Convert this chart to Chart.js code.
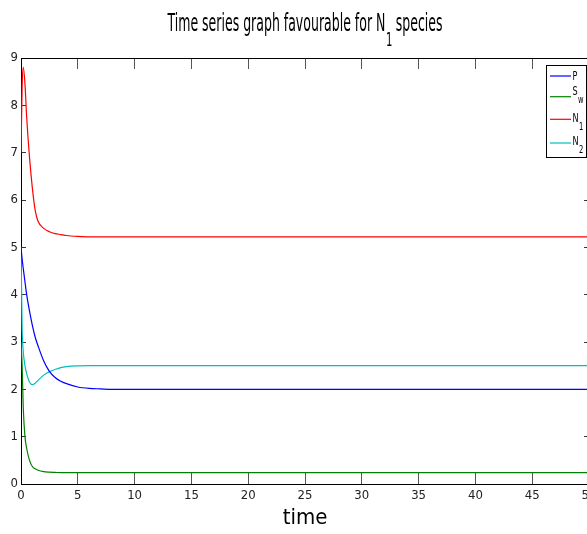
<!DOCTYPE html>
<html><head><meta charset="utf-8">
<script src="https://cdn.jsdelivr.net/npm/chart.js@4/dist/chart.umd.min.js"></script>
<style>html,body{margin:0;padding:0;overflow:hidden;background:#fff}#wrap{position:relative;width:600px;height:534px}</style>
</head><body><div id="wrap"><canvas id="c"></canvas></div>
<script>
// ---- data ----
const time     = [0, 0.1, 0.2, 0.35, 0.5, 0.75, 1, 1.25, 1.5, 2, 2.5, 3, 3.5, 4, 5, 6, 7, 8, 10, 20, 30, 40, 50];
const seriesP  = [5.0, 4.75, 4.55, 4.27, 4.0, 3.65, 3.35, 3.1, 2.92, 2.6, 2.38, 2.25, 2.17, 2.12, 2.05, 2.02, 2.01, 2.0, 2.0, 2.0, 2.0, 2.0, 2.0];
const seriesSw = [3.0, 2.5, 1.6, 1.0, 0.75, 0.5, 0.37, 0.32, 0.29, 0.26, 0.25, 0.245, 0.24, 0.24, 0.24, 0.24, 0.24, 0.24, 0.24, 0.24, 0.24, 0.24, 0.24];
const seriesN1 = [7.0, 8.4, 8.8, 8.45, 7.75, 6.9, 6.25, 5.78, 5.55, 5.4, 5.33, 5.29, 5.27, 5.25, 5.23, 5.22, 5.22, 5.22, 5.22, 5.22, 5.22, 5.22, 5.22];
const seriesN2 = [5.0, 3.3, 2.8, 2.5, 2.33, 2.15, 2.1, 2.13, 2.19, 2.3, 2.37, 2.42, 2.46, 2.48, 2.495, 2.5, 2.5, 2.5, 2.5, 2.5, 2.5, 2.5, 2.5];
const xTickValues = [0, 5, 10, 15, 20, 25, 30, 35, 40, 45, 50];
const yTickValues = [0, 1, 2, 3, 4, 5, 6, 7, 8, 9];
const seriesNames = ['P', 'S', 'N', 'N'];
const seriesSubs  = ['', 'w', '1', '2'];
const seriesColors = ['#0000ff', '#008000', '#ff0000', '#00bfbf'];
const titleMain = 'Time series graph favourable for N';
const titleSub = '1';
const titleTail = ' species';
const xAxisTitle = 'time';

const FAM = '"Liberation Sans Narrow", "DejaVu Sans Condensed", "Liberation Sans", sans-serif';
const toPts = vals => time.map((t, i) => ({x: t, y: vals[i]}));
const allSeries = [seriesP, seriesSw, seriesN1, seriesN2];

const datasets = allSeries.map((vals, i) => ({
  label: seriesNames[i] + seriesSubs[i],
  data: toPts(vals),
  borderColor: seriesColors[i],
  backgroundColor: seriesColors[i],
  borderWidth: 1.2,
  pointRadius: 0,
  fill: false,
  cubicInterpolationMode: 'monotone'
}));

const setX = s => { s.ticks = xTickValues.map(v => ({value: v})); };
const setY = s => { s.ticks = yTickValues.map(v => ({value: v})); };
const fitX = h => s => { s.height = h; s.paddingLeft = 0; s.paddingRight = 0; s.paddingTop = 0; s.paddingBottom = 0; };
const fitY = w => s => { s.width = w; s.paddingLeft = 0; s.paddingRight = 0; s.paddingTop = 0; s.paddingBottom = 0; };

const decor = {
  id: 'decor',
  afterDraw(chart) {
    const ctx = chart.ctx;
    const ca = chart.chartArea;
    ctx.save();
    ctx.fillStyle = '#000';
    const fMain = '25px ' + FAM, fSub = '20px ' + FAM;
    ctx.font = fMain;
    const wM = ctx.measureText(titleMain).width;
    const wT = ctx.measureText(titleTail).width;
    ctx.font = fSub;
    const wS = ctx.measureText(titleSub).width;
    const total = wM + wS + wT;
    const target = 275;
    const sx = target / total;
    const cx = (ca.left + ca.right) / 2;
    ctx.save();
    ctx.translate(cx - target / 2, 31);
    ctx.scale(sx, 1);
    ctx.textBaseline = 'alphabetic';
    ctx.textAlign = 'left';
    ctx.font = fMain;
    ctx.fillText(titleMain, 0, 0);
    ctx.font = fSub;
    ctx.fillText(titleSub, wM + 1, 15);
    ctx.font = fMain;
    ctx.fillText(titleTail, wM + wS, 0);
    ctx.restore();

    const bx = 546.5, by = 65.5, bw = 40, bh = 92;
    ctx.fillStyle = '#fff';
    ctx.fillRect(bx, by, bw, bh);
    ctx.strokeStyle = '#000';
    ctx.lineWidth = 1;
    ctx.strokeRect(bx, by, bw, bh);
    const lineYs = [76, 96.7, 119.3, 143];
    const baseOff = [4, -1.5, 2.5, 2];
    chart.data.datasets.forEach((ds, i) => {
      const y = lineYs[i];
      ctx.strokeStyle = ds.borderColor;
      ctx.lineWidth = 1.2;
      ctx.beginPath();
      ctx.moveTo(550, y);
      ctx.lineTo(571, y);
      ctx.stroke();
      ctx.fillStyle = '#000';
      ctx.textAlign = 'left';
      ctx.textBaseline = 'alphabetic';
      ctx.save();
      ctx.translate(572.5, y + baseOff[i]);
      ctx.scale(0.75, 1);
      ctx.font = '12px ' + FAM;
      const nm = seriesNames[i];
      ctx.fillText(nm, 0, 0);
      const w = ctx.measureText(nm).width;
      if (seriesSubs[i]) {
        ctx.font = '10px ' + FAM;
        ctx.fillText(seriesSubs[i], w + 0.5, 8);
      }
      ctx.restore();
    });
    ctx.restore();
  }
};

new Chart(document.getElementById('c'), {
  type: 'line',
  data: { datasets },
  options: {
    responsive: true,
    maintainAspectRatio: false,
    animation: false,
    devicePixelRatio: 1,
    layout: { autoPadding: false, padding: { left: 0, right: 11, top: 58, bottom: 0 } },
    plugins: { legend: { display: false }, title: { display: false }, tooltip: { enabled: false } },
    scales: {
      x: {
        type: 'linear', position: 'bottom', min: 0, max: 50,
        afterBuildTicks: setX,
        afterFit: fitX(50),
        ticks: { font: { family: FAM, size: 13 }, color: '#222', padding: 15, maxRotation: 0, autoSkip: false },
        grid: { display: true, drawOnChartArea: false, drawTicks: true, tickLength: -11, color: '#555' },
        border: { display: true, color: '#000', width: 1 },
        title: { display: true, text: xAxisTitle, font: { family: FAM, size: 22 }, color: '#000', padding: { top: 0, bottom: 3 } }
      },
      x2: {
        type: 'linear', position: 'top', min: 0, max: 50,
        afterBuildTicks: setX,
        afterFit: fitX(0),
        ticks: { display: false },
        grid: { display: true, drawOnChartArea: false, drawTicks: true, tickLength: -11, color: '#555' },
        border: { display: true, color: '#000', width: 1 }
      },
      y: {
        type: 'linear', position: 'left', min: 0, max: 9,
        afterBuildTicks: setY,
        afterFit: fitY(21),
        ticks: { font: { family: FAM, size: 13 }, color: '#222', padding: 8 },
        grid: { display: true, drawOnChartArea: false, drawTicks: true, tickLength: -5, color: '#333' },
        border: { display: true, color: '#000', width: 1 }
      },
      y2: {
        type: 'linear', position: 'right', min: 0, max: 9,
        afterBuildTicks: setY,
        afterFit: fitY(0),
        ticks: { display: false },
        grid: { display: true, drawOnChartArea: false, drawTicks: true, tickLength: -5, color: '#333' },
        border: { display: true, color: '#000', width: 1 }
      }
    }
  },
  plugins: [decor]
});
</script>
</body></html>
